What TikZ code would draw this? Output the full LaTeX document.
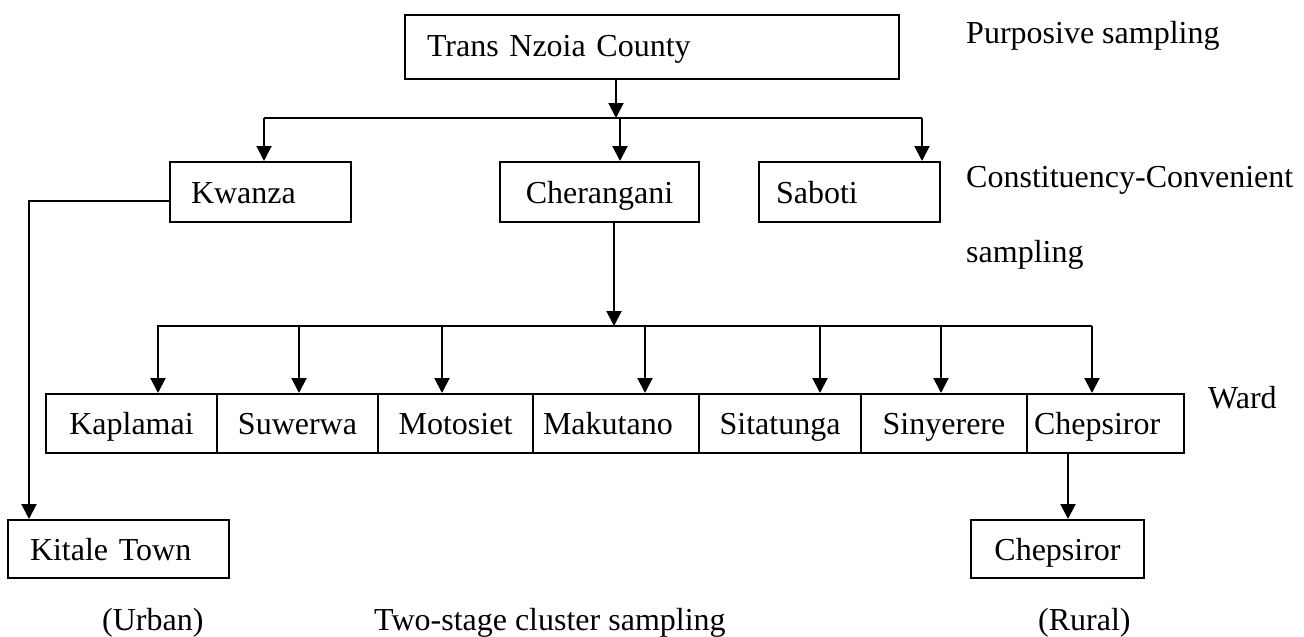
\documentclass[tikz,border=0pt]{standalone}
\usepackage{fontspec}
\setmainfont{Liberation Serif}
\usetikzlibrary{arrows.meta}
\begin{document}
\begin{tikzpicture}[x=1pt,y=-1pt,
  every node/.style={font=\fontsize{32pt}{38pt}\selectfont},
  box/.style={draw, line width=2pt, inner xsep=0pt, inner ysep=0pt, text height=22pt, text depth=0pt},
  lbox/.style={box, align=left, inner xsep=#1},
  lab/.style={anchor=base west, inner sep=0pt},
  ln/.style={line width=2pt},
  arr/.style={ln, -{Triangle[width=15pt,length=15pt]}}]
\useasboundingbox (0,0) rectangle (1304,637);

% boxes
\node[lbox=22pt, text width=450pt, text depth=4pt, minimum width=494pt, minimum height=64pt] (tn) at (652,47) {Trans Nzoia County};
\node[lbox=21pt, text width=139pt, minimum width=181pt, minimum height=60pt] (kw) at (260.5,192) {Kwanza};
\node[box, minimum width=199pt, minimum height=60pt] (ch) at (599.5,192) {Cherangani};
\node[lbox=17pt, text width=147pt, minimum width=181pt, minimum height=60pt] (sa) at (849.5,192) {Saboti};

\node[box, minimum width=171pt, minimum height=59pt] (w1) at (131.5,423.5) {Kaplamai};
\node[box, minimum width=161pt, minimum height=59pt] (w2) at (297.5,423.5) {Suwerwa};
\node[box, minimum width=155pt, minimum height=59pt] (w3) at (455.5,423.5) {Motosiet};
\node[lbox=10pt, text width=146pt, minimum width=166pt, minimum height=59pt] (w4) at (616,423.5) {Makutano};
\node[box, minimum width=162pt, minimum height=59pt] (w5) at (780,423.5) {Sitatunga};
\node[box, minimum width=166pt, minimum height=59pt] (w6) at (944,423.5) {Sinyerere};
\node[lbox=7pt, text width=143pt, minimum width=157pt, minimum height=59pt] (w7) at (1105.5,423.5) {Chepsiror};

\node[lbox=22pt, text width=177pt, minimum width=221pt, minimum height=58pt] (kt) at (118.5,549) {Kitale Town};
\node[box, minimum width=173pt, minimum height=58pt] (cs) at (1057.5,549) {Chepsiror};

% first level connectors
\coordinate (t1) at (616,118);
\coordinate (bL) at (264,118);
\coordinate (bM) at (620,118);
\coordinate (bR) at (922,118);
\draw[arr] (t1 |- tn.south) -- (t1);
\draw[ln] (bL) -- (bR);
\draw[arr] (bL) -- (bL |- kw.north);
\draw[arr] (bM) -- (bM |- ch.north);
\draw[arr] (bR) -- (bR |- sa.north);

% ward connectors
\coordinate (c1) at (614,326);
\coordinate (wL) at (157,326);
\coordinate (wR) at (1092,326);
\draw[arr] (c1 |- ch.south) -- (c1);
\draw[ln] (wL) -- (wR);
\foreach \x/\n in {158/w1, 299/w2, 442/w3, 645/w4, 820/w5, 941/w6, 1092/w7}{
  \coordinate (p) at (\x,326);
  \draw[arr] (p) -- (p |- \n.north);
}

% Kwanza -> Kitale Town
\coordinate (k1) at (29,201);
\draw[arr] (kw.west |- k1) -- (k1) -- (k1 |- kt.north);

% Chepsiror -> Chepsiror
\coordinate (q1) at (1068,453);
\draw[arr] (q1 |- w7.south) -- (q1 |- cs.north);

% labels
\node[lab] (l1) at (966,43) {Purposive sampling};
\node[lab] (l2) at (966,187) {Constituency-Convenient};
\node[lab] (l3) at (966,262) {sampling};
\node[lab] (l4) at (1208,408) {Ward};
\node[lab] (l5) at (102,630) {(Urban)};
\node[lab] (l6) at (374,630) {Two-stage cluster sampling};
\node[lab] (l7) at (1038,630) {(Rural)};
\end{tikzpicture}
\end{document}
